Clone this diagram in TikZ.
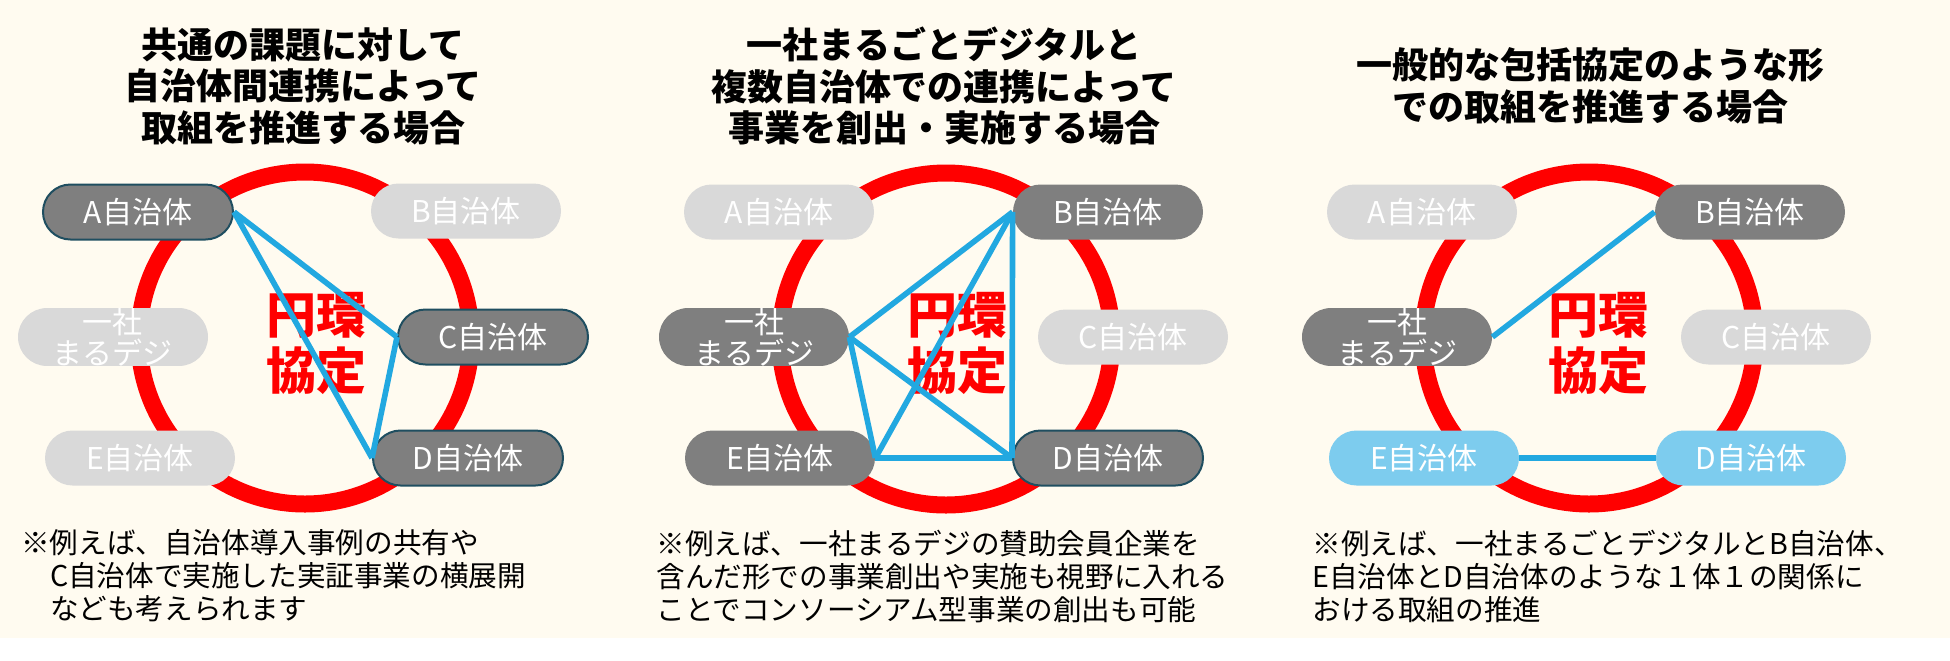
\documentclass[tikz,border=0pt]{standalone}
\usepackage{fontspec}
\setmainfont{Noto Sans CJK JP}
\newfontfamily\heavyjp{Noto Sans CJK JP Black}
\usetikzlibrary{shapes.misc,positioning}

\definecolor{cream}{HTML}{FFFBF0}
\definecolor{ringred}{HTML}{FF0000}
\definecolor{actgray}{HTML}{7F7F7F}
\definecolor{idlegray}{HTML}{D9D9D9}
\definecolor{edgeblue}{HTML}{1F4E60}
\definecolor{linkblue}{HTML}{22A8E0}
\definecolor{pairblue}{HTML}{7DCCEE}

\begin{document}
\begin{tikzpicture}[x=0.5pt, y=-0.5pt,
    muni/.style={rounded rectangle, minimum width=95pt, minimum height=27.5pt, inner sep=0pt, text=white, align=center, font=\fontsize{15}{15.5}\selectfont},
    idle/.style={muni, fill=idlegray},
    act/.style={muni, fill=actgray},
    actb/.style={act, draw=edgeblue, line width=1pt},
    pair/.style={muni, fill=pairblue},
    ring/.style={draw=ringred, line width=8.5pt},
    link/.style={draw=linkblue, line width=2.8pt},
    head/.style={align=center, inner sep=0pt, font=\fontsize{18}{20.75}\selectfont\heavyjp},
    core/.style={align=center, inner sep=0pt, text=ringred, font=\fontsize{25}{28}\selectfont\heavyjp},
    memo/.style={align=left, anchor=west, inner sep=0pt, font=\fontsize{14.3}{16.5}\selectfont}
]
\fill[white] (0,0) rectangle (1950,660);
\fill[cream] (0,0) rectangle (1950,638);
\useasboundingbox (0,0) rectangle (1950,660);

% panel 1
\node[head] (t1) at (303,86) {共通の課題に対して\\自治体間連携によって\\取組を推進する場合};
\draw[ring] (305,338) circle[radius=83pt];
\node[core] (k1) at (316,343) {円環\\協定};
\node[actb] (a1) at (138,212) {A自治体};
\node[idle] (b1) at (466,211) {B自治体};
\node[idle] (s1) at (113,337) {一社\\まるデジ};
\node[actb] (c1) at (493,337) {C自治体};
\node[idle] (e1) at (140,458) {E自治体};
\node[actb] (d1) at (468,458) {D自治体};
\draw[link] (a1.east) -- (c1.west);
\draw[link] (a1.east) -- (d1.west);
\draw[link] (c1.west) -- (d1.west);
\node[memo] (n1) at (21,576) {※例えば、自治体導入事例の共有や\\\quad C自治体で実施した実証事業の横展開\\\quad なども考えられます};

% panel 2
\node[head] (t2) at (944,86) {一社まるごとデジタルと\\複数自治体での連携によって\\事業を創出・実施する場合};
\draw[ring] (946,339) circle[radius=83pt];
\node[core] (k2) at (957,343) {円環\\協定};
\node[idle] (a2) at (779,212) {A自治体};
\node[act] (b2) at (1108,212) {B自治体};
\node[act] (s2) at (754,337) {一社\\まるデジ};
\node[idle] (c2) at (1133,337) {C自治体};
\node[act] (e2) at (780,458) {E自治体};
\node[actb] (d2) at (1108,458) {D自治体};
\draw[link] (b2.west) -- (s2.east);
\draw[link] (b2.west) -- (e2.east);
\draw[link] (b2.west) -- (d2.west);
\draw[link] (s2.east) -- (e2.east);
\draw[link] (s2.east) -- (d2.west);
\draw[link] (e2.east) -- (d2.west);
\node[memo] (n2) at (656,576) {※例えば、一社まるデジの賛助会員企業を\\含んだ形での事業創出や実施も視野に入れる\\ことでコンソーシアム型事業の創出も可能};

% panel 3
\node[head] (t3) at (1590,86) {一般的な包括協定のような形\\での取組を推進する場合};
\draw[ring] (1589,338) circle[radius=83pt];
\node[core] (k3) at (1598,343) {円環\\協定};
\node[idle] (a3) at (1422,212) {A自治体};
\node[act] (b3) at (1750,212) {B自治体};
\node[act] (s3) at (1397,337) {一社\\まるデジ};
\node[idle] (c3) at (1776,337) {C自治体};
\node[pair] (e3) at (1424,458) {E自治体};
\node[pair] (d3) at (1751,458) {D自治体};
\draw[link] (s3.east) -- (b3.west);
\draw[link] (e3.east) -- (d3.west);
\node[memo] (n3) at (1312,576) {※例えば、一社まるごとデジタルとB自治体、\\E自治体とD自治体のような１体１の関係に\\おける取組の推進};
\end{tikzpicture}
\end{document}
